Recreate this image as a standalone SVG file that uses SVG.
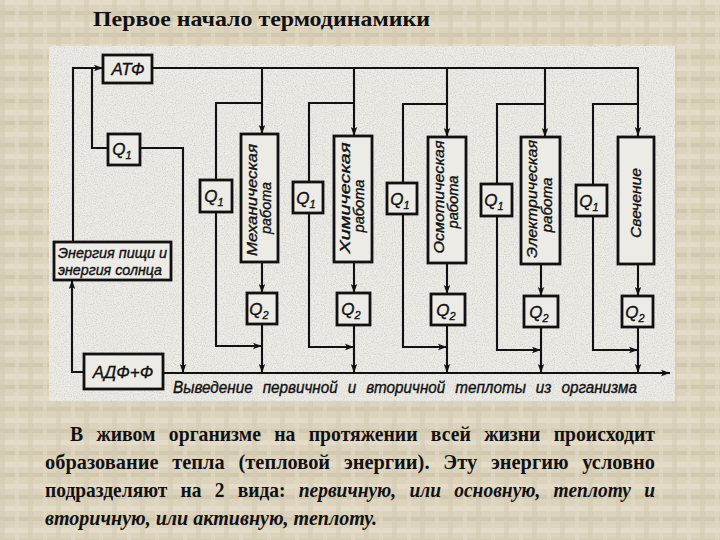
<svg xmlns="http://www.w3.org/2000/svg" width="720" height="540" viewBox="0 0 720 540">
<defs>
<pattern id="paper" width="28" height="22" patternUnits="userSpaceOnUse">
<rect width="28" height="22" fill="#dcd3bd"/>
<rect y="0" width="28" height="5" fill="#e4dcc8"/>
<rect y="11" width="28" height="4" fill="#d2c8ae"/>
<rect x="0" width="5" height="22" fill="#d6ccb3" opacity="0.6"/>
<rect x="15" width="4" height="22" fill="#e2dac6" opacity="0.6"/>
</pattern>
<marker id="arr" markerWidth="10" markerHeight="8" refX="9" refY="4" orient="auto" markerUnits="userSpaceOnUse">
<path d="M0,0.8 L9,4 L0,7.2 L2,4 Z" fill="#111"/>
</marker>
<filter id="grain" x="0" y="0" width="100%" height="100%">
<feTurbulence type="fractalNoise" baseFrequency="0.9" numOctaves="2" seed="3" result="n"/>
<feColorMatrix type="matrix" values="0 0 0 0 0.35  0 0 0 0 0.35  0 0 0 0 0.33  0 0 0 -2.2 1.25" in="n"/>
</filter>
</defs>
<style>
.box{fill:#ecebe6;stroke:#111;stroke-width:2.8}
.ln{fill:none;stroke:#111;stroke-width:2.1}
.lab{font-family:"Liberation Sans","DejaVu Sans",sans-serif;font-style:italic;fill:#111;stroke:#111;stroke-width:0.35}
.q{font-size:17px;text-anchor:middle}
.vt{font-size:14px;text-anchor:middle}
.ser{font-family:"Liberation Serif","Times New Roman",serif;font-weight:bold;fill:#111}
.par{font-size:21px;word-spacing:9px}
.last{word-spacing:0}
</style>
<rect width="720" height="540" fill="url(#paper)"/>
<rect x="49" y="46" width="626" height="355" fill="#ecebe6"/>
<rect x="49" y="46" width="626" height="355" filter="url(#grain)" opacity="0.35"/>

<text class="ser" x="93" y="26" font-size="21" textLength="337" lengthAdjust="spacingAndGlyphs">Первое начало термодинамики</text>

<g id="connectors">
<path class="ln" d="M152,68 H638 V136" marker-end="url(#arr)"/>
<path class="ln" d="M262,68 V134" marker-end="url(#arr)"/>
<path class="ln" d="M354,68 V136" marker-end="url(#arr)"/>
<path class="ln" d="M447,68 V137" marker-end="url(#arr)"/>
<path class="ln" d="M545,68 V137" marker-end="url(#arr)"/>
<path class="ln" d="M73,242 V68 H103" marker-end="url(#arr)"/>
<path class="ln" d="M108,148 H92 V68"/>
<path class="ln" d="M140,148 H183 V373" marker-end="url(#arr)"/>
<path class="ln" d="M84,372 H72 V280" marker-end="url(#arr)"/>
<path class="ln" d="M163,373 H670" marker-end="url(#arr)"/>
<!-- column 1 -->
<path class="ln" d="M262,103 H216 V180"/>
<path class="ln" d="M216,212 V346 H262" marker-end="url(#arr)"/>
<path class="ln" d="M262,262 V293" marker-end="url(#arr)"/>
<path class="ln" d="M262,324 V373" marker-end="url(#arr)"/>
<!-- column 2 -->
<path class="ln" d="M354,103 H309 V182"/>
<path class="ln" d="M309,213 V347 H354" marker-end="url(#arr)"/>
<path class="ln" d="M354,262 V293" marker-end="url(#arr)"/>
<path class="ln" d="M354,325 V373" marker-end="url(#arr)"/>
<!-- column 3 -->
<path class="ln" d="M447,104 H403 V183"/>
<path class="ln" d="M403,214 V347 H447" marker-end="url(#arr)"/>
<path class="ln" d="M447,263 V294" marker-end="url(#arr)"/>
<path class="ln" d="M447,325 V373" marker-end="url(#arr)"/>
<!-- column 4 -->
<path class="ln" d="M545,104 H497 V184"/>
<path class="ln" d="M497,216 V350 H541" marker-end="url(#arr)"/>
<path class="ln" d="M541,264 V296" marker-end="url(#arr)"/>
<path class="ln" d="M541,327 V373" marker-end="url(#arr)"/>
<!-- column 5 -->
<path class="ln" d="M638,104 H593 V185"/>
<path class="ln" d="M593,216 V350 H638" marker-end="url(#arr)"/>
<path class="ln" d="M638,264 V296" marker-end="url(#arr)"/>
<path class="ln" d="M638,327 V373" marker-end="url(#arr)"/>
</g>

<g id="atf"><rect class="box" x="103" y="55" width="49" height="28"/><text class="lab q" x="128" y="75">АТФ</text></g>
<g id="q1-main"><rect class="box" x="108" y="134" width="32" height="31"/><text class="lab q" x="122" y="155">Q<tspan font-size="11" dy="4">1</tspan></text></g>
<g id="energy"><rect class="box" x="54" y="242" width="117" height="38"/><text class="lab" x="58" y="258" font-size="14" textLength="109" lengthAdjust="spacingAndGlyphs">Энергия пищи и</text><text class="lab" x="58" y="275" font-size="14" textLength="104" lengthAdjust="spacingAndGlyphs">энергия солнца</text></g>
<g id="adf"><rect class="box" x="84" y="354" width="79" height="35"/><text class="lab q" x="123" y="378">АДФ+Ф</text></g>

<g id="q1-1"><rect class="box" x="200" y="180" width="32" height="32"/><text class="lab q" x="214" y="202">Q<tspan font-size="11" dy="4">1</tspan></text></g>
<g id="work-1"><rect class="box" x="241" y="134" width="37" height="128"/>
<text class="lab vt" transform="translate(257,200) rotate(-90)" textLength="112" lengthAdjust="spacingAndGlyphs">Механическая</text>
<text class="lab vt" transform="translate(271,208) rotate(-90)" textLength="52" lengthAdjust="spacingAndGlyphs">работа</text></g>
<g id="q2-1"><rect class="box" x="247" y="293" width="30" height="31"/><text class="lab q" x="259" y="315">Q<tspan font-size="11" dy="4">2</tspan></text></g>

<g id="q1-2"><rect class="box" x="293" y="182" width="30" height="31"/><text class="lab q" x="306" y="204">Q<tspan font-size="11" dy="4">1</tspan></text></g>
<g id="work-2"><rect class="box" x="334" y="136" width="38" height="126"/>
<text class="lab vt" transform="translate(350,198) rotate(-90)" textLength="111" lengthAdjust="spacingAndGlyphs">Химическая</text>
<text class="lab vt" transform="translate(364,206) rotate(-90)" textLength="53" lengthAdjust="spacingAndGlyphs">работа</text></g>
<g id="q2-2"><rect class="box" x="337" y="293" width="33" height="32"/><text class="lab q" x="351" y="315">Q<tspan font-size="11" dy="4">2</tspan></text></g>

<g id="q1-3"><rect class="box" x="387" y="183" width="30" height="31"/><text class="lab q" x="400" y="205">Q<tspan font-size="11" dy="4">1</tspan></text></g>
<g id="work-3"><rect class="box" x="428" y="137" width="38" height="126"/>
<text class="lab vt" transform="translate(444,197) rotate(-90)" textLength="113" lengthAdjust="spacingAndGlyphs">Осмотическая</text>
<text class="lab vt" transform="translate(458,202) rotate(-90)" textLength="53" lengthAdjust="spacingAndGlyphs">работа</text></g>
<g id="q2-3"><rect class="box" x="431" y="294" width="34" height="31"/><text class="lab q" x="446" y="316">Q<tspan font-size="11" dy="4">2</tspan></text></g>

<g id="q1-4"><rect class="box" x="481" y="184" width="31" height="32"/><text class="lab q" x="494" y="206">Q<tspan font-size="11" dy="4">1</tspan></text></g>
<g id="work-4"><rect class="box" x="521" y="137" width="39" height="127"/>
<text class="lab vt" transform="translate(537,199) rotate(-90)" textLength="118" lengthAdjust="spacingAndGlyphs">Электрическая</text>
<text class="lab vt" transform="translate(552,205) rotate(-90)" textLength="55" lengthAdjust="spacingAndGlyphs">работа</text></g>
<g id="q2-4"><rect class="box" x="524" y="296" width="34" height="31"/><text class="lab q" x="539" y="318">Q<tspan font-size="11" dy="4">2</tspan></text></g>

<g id="q1-5"><rect class="box" x="576" y="185" width="31" height="31"/><text class="lab q" x="589" y="207">Q<tspan font-size="11" dy="4">1</tspan></text></g>
<g id="work-5"><rect class="box" x="618" y="137" width="36" height="127"/>
<text class="lab vt" transform="translate(641,203) rotate(-90)" textLength="70" lengthAdjust="spacingAndGlyphs">Свечение</text></g>
<g id="q2-5"><rect class="box" x="622" y="296" width="31" height="31"/><text class="lab q" x="635" y="318">Q<tspan font-size="11" dy="4">2</tspan></text></g>

<text class="lab" x="173" y="393" font-size="16" textLength="464" lengthAdjust="spacingAndGlyphs" word-spacing="6">Выведение первичной и вторичной теплоты из организма</text>

<g id="paragraph">
<text class="ser par" x="70" y="441" textLength="585" lengthAdjust="spacingAndGlyphs">В живом организме на протяжении всей жизни происходит</text>
<text class="ser par" x="45" y="469" textLength="610" lengthAdjust="spacingAndGlyphs">образование тепла (тепловой энергии). Эту энергию условно</text>
<text class="ser par" x="45" y="497" textLength="610" lengthAdjust="spacingAndGlyphs">подразделяют на 2 вида: <tspan font-style="italic">первичную, или основную, теплоту и</tspan></text>
<text class="ser par last" x="45" y="525" font-style="italic" textLength="332" lengthAdjust="spacingAndGlyphs">вторичную, или активную, теплоту.</text>
</g>
</svg>
